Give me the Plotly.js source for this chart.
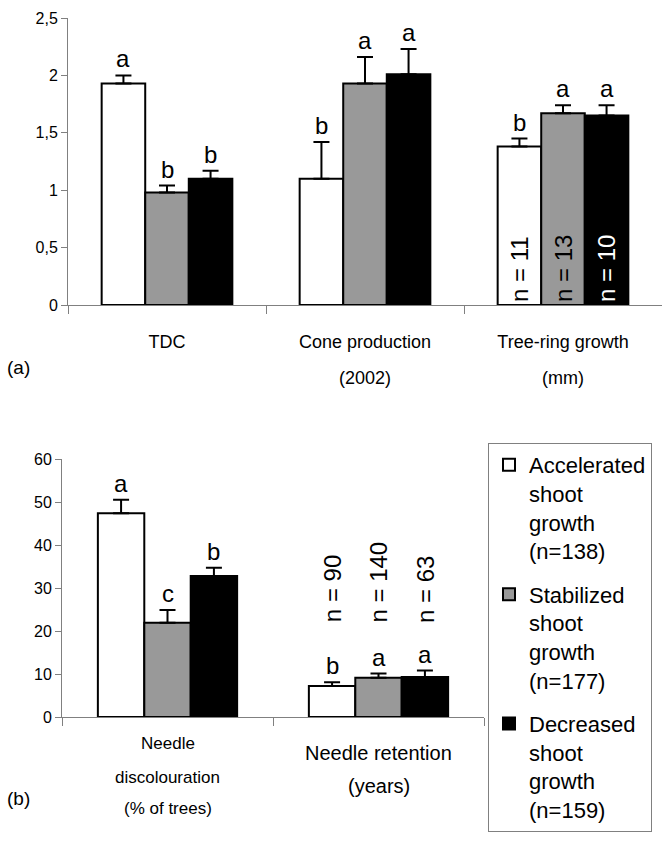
<!DOCTYPE html>
<html><head><meta charset="utf-8">
<script src="https://cdn.plot.ly/plotly-3.0.1.min.js"></script>
<style>html,body{margin:0;padding:0;background:#fff}#chart{width:662px;height:845px}</style>
</head><body><div id="chart"></div>
<script>
// ---- data ----
const seriesNames = ['Accelerated<br>shoot<br>growth<br>(n=138)', 'Stabilized<br>shoot<br>growth<br>(n=177)', 'Decreased<br>shoot<br>growth<br>(n=159)'];
const seriesColors = ['#ffffff', '#999999', '#000000'];

const catsA = ['TDC', 'Cone production', 'Tree-ring growth'];
const subLabelsA = ['', '(2002)', '(mm)'];
const valsA = [[1.93, 1.10, 1.38], [0.98, 1.93, 1.67], [1.10, 2.01, 1.65]];
const errsA = [[0.07, 0.32, 0.07], [0.06, 0.23, 0.07], [0.07, 0.22, 0.09]];
const lettersA = [['a', 'b', 'b'], ['b', 'a', 'a'], ['b', 'a', 'a']];
const nLabelsA = [['', '', 'n = 11'], ['', '', 'n = 13'], ['', '', 'n = 10']];

const catsB = ['Needle discolouration', 'Needle retention'];
const catLinesB = [['Needle', 'discolouration', '(% of trees)'], ['Needle retention', '(years)']];
const valsB = [[47.4, 7.2], [21.9, 9.1], [32.8, 9.3]];
const errsB = [[3.1, 0.9], [3.0, 1.0], [1.9, 1.5]];
const lettersB = [['a', 'b'], ['c', 'a'], ['b', 'a']];
const nLabelsB = ['n = 90', 'n = 140', 'n = 63'];
const nLabelYB = 21.5;

// ---- layout helpers ----
const W = 662, H = 845;
const FONT = 'Liberation Sans, Arial, sans-serif';
const BARGAP = 0.34;
const bw = (1 - BARGAP) / 3;
const py = p => 1 - p / H;

const traces = [];
const annotations = [];

for (let s = 0; s < 3; s++) {
  traces.push({
    type: 'bar', x: catsA, y: valsA[s], xaxis: 'x', yaxis: 'y',
    name: seriesNames[s], legendgroup: 'g' + s, showlegend: true,
    marker: {color: seriesColors[s], line: {color: '#000', width: 2}},
    error_y: {type: 'data', symmetric: false, array: errsA[s], arrayminus: errsA[s].map(() => 0),
      color: '#000', thickness: 2, width: 8},
    text: nLabelsA[s], textposition: 'inside', insidetextanchor: 'start', textangle: -90,
    insidetextfont: {family: FONT, size: 24, color: s === 2 ? '#fff' : '#000'},
    hoverinfo: 'none'
  });
  traces.push({
    type: 'bar', x: catsB, y: valsB[s], xaxis: 'x2', yaxis: 'y2',
    name: seriesNames[s], legendgroup: 'g' + s, showlegend: false,
    marker: {color: seriesColors[s], line: {color: '#000', width: 2}},
    error_y: {type: 'data', symmetric: false, array: errsB[s], arrayminus: errsB[s].map(() => 0),
      color: '#000', thickness: 2, width: 8},
    hoverinfo: 'none'
  });
  catsA.forEach((c, i) => {
    annotations.push({xref: 'x', yref: 'y', x: i + (s - 1) * bw, y: valsA[s][i] + errsA[s][i],
      yanchor: 'bottom', yshift: 1, text: lettersA[s][i], showarrow: false,
      font: {family: FONT, size: 24, color: '#000'}});
  });
  catsB.forEach((c, i) => {
    annotations.push({xref: 'x2', yref: 'y2', x: i + (s - 1) * bw, y: valsB[s][i] + errsB[s][i],
      yanchor: 'bottom', yshift: 1, text: lettersB[s][i], showarrow: false,
      font: {family: FONT, size: 24, color: '#000'}});
  });
  annotations.push({xref: 'x2', yref: 'y2', x: 1 + (s - 1) * bw, y: nLabelYB,
    yanchor: 'bottom', text: nLabelsB[s], textangle: -90, showarrow: false,
    font: {family: FONT, size: 24, color: '#000'}});
}

subLabelsA.forEach((t, i) => {
  if (!t) return;
  annotations.push({xref: 'x', yref: 'paper', x: i, y: py(378), yanchor: 'middle', text: t,
    showarrow: false, font: {family: FONT, size: 18, color: '#000'}});
});
const linePosB = [[743, 777, 808], [753, 786]];
const lineSizeB = [17, 20];
catLinesB.forEach((lines, i) => {
  lines.forEach((t, k) => {
    annotations.push({xref: 'x2', yref: 'paper', x: i, y: py(linePosB[i][k]), yanchor: 'middle', text: t,
      showarrow: false, font: {family: FONT, size: lineSizeB[i], color: '#000'}});
  });
});
annotations.push({xref: 'paper', yref: 'paper', x: 5 / W, y: py(367), xanchor: 'left', yanchor: 'middle',
  text: '(a)', showarrow: false, font: {family: FONT, size: 19, color: '#000'}});
annotations.push({xref: 'paper', yref: 'paper', x: 5 / W, y: py(798), xanchor: 'left', yanchor: 'middle',
  text: '(b)', showarrow: false, font: {family: FONT, size: 19, color: '#000'}});

const axisLine = {showline: true, linecolor: '#808080', linewidth: 1, showgrid: false, zeroline: false,
  ticks: 'outside', tickcolor: '#808080', ticklen: 6, tickwidth: 1};

const layout = {
  width: W, height: H, margin: {l: 0, r: 0, t: 0, b: 0},
  paper_bgcolor: '#fff', plot_bgcolor: 'rgba(0,0,0,0)',
  font: {family: FONT, color: '#000'},
  separators: ', ',
  barmode: 'group', bargap: BARGAP, bargroupgap: 0,
  showlegend: true,
  legend: {x: 488 / W, y: py(443), xanchor: 'left', yanchor: 'top', bordercolor: '#808080', borderwidth: 1,
    font: {family: FONT, size: 22, color: '#000'}, valign: 'top', tracegroupgap: 12, bgcolor: '#fff'},
  xaxis: Object.assign({}, axisLine, {domain: [68 / W, 1], anchor: 'y', type: 'category', tickson: 'boundaries',
    ticklen: 8, tickfont: {family: FONT, size: 18, color: '#000'}, ticklabelstandoff: 20}),
  yaxis: Object.assign({}, axisLine, {domain: [py(305), py(18)], anchor: 'x', range: [0, 2.5], dtick: 0.5,
    tickfont: {family: FONT, size: 16, color: '#000'}}),
  xaxis2: Object.assign({}, axisLine, {domain: [62 / W, 484 / W], anchor: 'y2', type: 'category', tickson: 'boundaries',
    ticklen: 8, showticklabels: false}),
  yaxis2: Object.assign({}, axisLine, {domain: [py(717), py(459)], anchor: 'x2', range: [0, 60], dtick: 10,
    tickfont: {family: FONT, size: 16, color: '#000'}}),
  annotations: annotations
};

Plotly.newPlot('chart', traces, layout, {staticPlot: true});
</script></body></html>
